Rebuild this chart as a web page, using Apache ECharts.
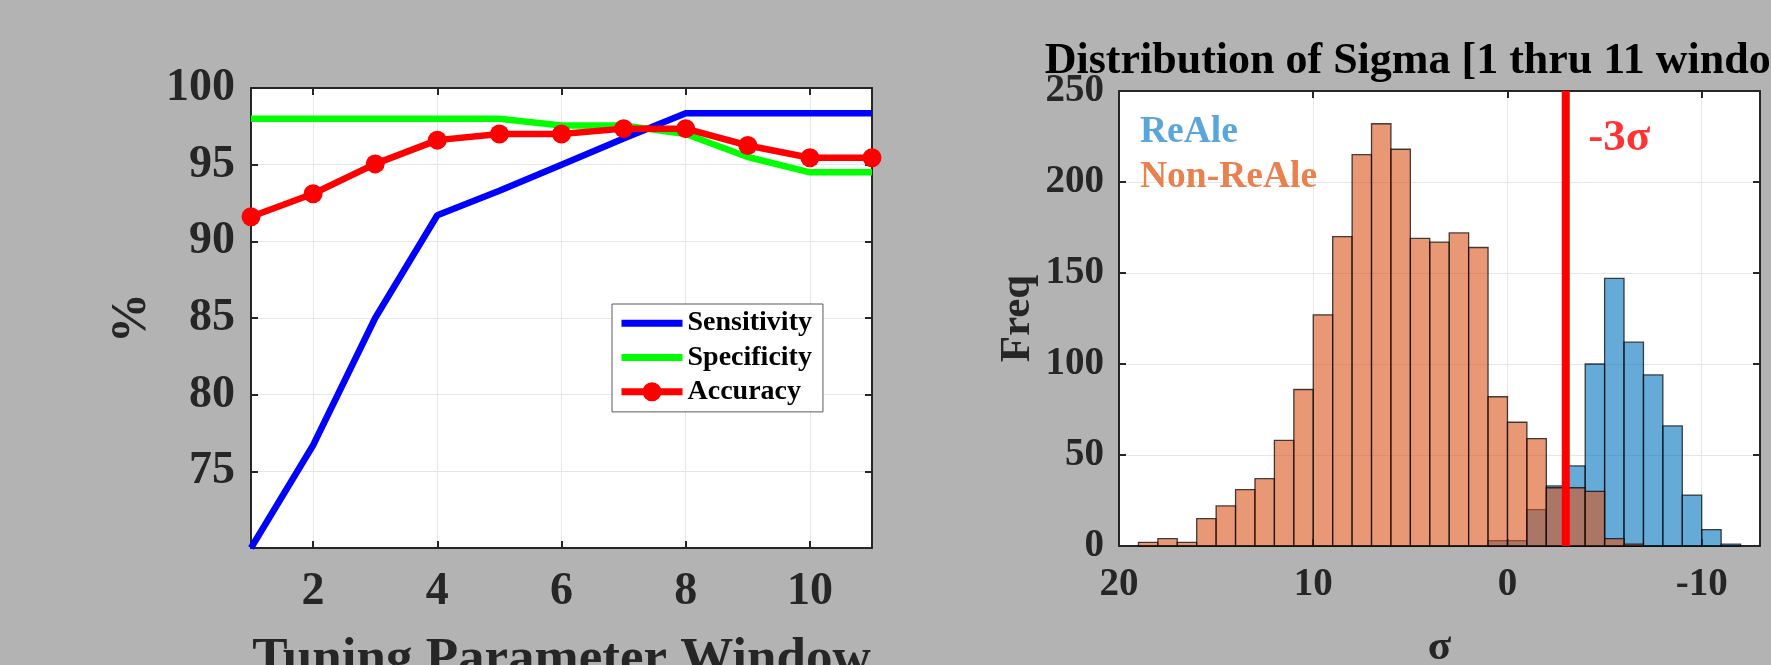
<!DOCTYPE html>
<html>
<head>
<meta charset="utf-8">
<script src="https://cdn.jsdelivr.net/npm/echarts@6/dist/echarts.min.js"></script>
<style>
html,body{margin:0;padding:0;background:#B3B3B3;}
#chart{width:1771px;height:665px;}
</style>
</head>
<body>
<div id="chart"></div>
<script>
// ---------- Left panel data ----------
const windows = [1, 2, 3, 4, 5, 6, 7, 8, 9, 10, 11];
const sensitivity = [70, 76.7, 85, 91.7, 93.3, 95, 96.7, 98.35, 98.35, 98.35, 98.35];
const specificity = [98, 98, 98, 98, 98, 97.55, 97.55, 97.0, 95.5, 94.5, 94.5];
const accuracy = [91.6, 93.1, 95.05, 96.6, 97.0, 97.0, 97.35, 97.35, 96.25, 95.45, 95.45];

// ---------- Right panel data (histogram, bin edges in sigma) ----------
const nonReAleEdges = [19, 18, 17, 16, 15, 14, 13, 12, 11, 10, 9, 8, 7, 6, 5, 4, 3, 2, 1, 0, -1, -2, -3, -4, -5, -6, -7];
const nonReAleCounts = [2, 4, 2, 15, 22, 31, 37, 58, 86, 127, 170, 215, 232, 218, 169, 167, 172, 164, 82, 68, 59, 32, 32, 30, 4, 1];
const reAleEdges = [1, 0, -1, -2, -3, -4, -5, -6, -7, -8, -9, -10, -11, -12];
const reAleCounts = [3, 3, 20, 33, 44, 100, 147, 112, 94, 66, 28, 9, 1];
const thresholdSigma = -3;

const titleText = 'Distribution of Sigma [1 thru 11 windows]';

function bins(edges, counts) {
  const out = [];
  for (let i = 0; i < counts.length; i++) out.push([edges[i + 1], edges[i], counts[i]]);
  return out;
}
function histRender(fill) {
  return function (params, api) {
    const a = api.coord([api.value(0), 0]);
    const b = api.coord([api.value(1), api.value(2)]);
    return {
      type: 'rect',
      shape: { x: Math.min(a[0], b[0]), y: b[1], width: Math.abs(b[0] - a[0]), height: a[1] - b[1] },
      style: { fill: fill, stroke: 'rgba(0,0,0,0.72)', lineWidth: 1.3 }
    };
  };
}

const FONT = "'Liberation Serif', 'Times New Roman', serif";
const AX = '#262626';
const GRIDC = '#E6E6E6';

function axisBase(extra) {
  return Object.assign({
    axisLine: { show: true, onZero: false, lineStyle: { color: AX, width: 2 } },
    axisTick: { show: true, inside: true, length: 7, lineStyle: { color: AX, width: 2 } },
    splitLine: { show: false },
    axisLabel: { show: false }
  }, extra);
}

const chart = echarts.init(document.getElementById('chart'), null, { renderer: 'canvas' });
const option = {
  backgroundColor: '#B3B3B3',
  animation: false,
  title: {
    text: titleText,
    left: 1439.5,
    top: 40,
    padding: 0,
    textAlign: 'center',
    textStyle: { fontFamily: FONT, fontWeight: 'bold', fontSize: 44, color: '#000' }
  },
  legend: [
    {
      data: [
        { name: 'Sensitivity', itemStyle: { opacity: 0 } },
        { name: 'Specificity', itemStyle: { opacity: 0 } },
        { name: 'Accuracy' }
      ],
      orient: 'vertical',
      left: 612,
      top: 304,
      itemWidth: 61,
      itemHeight: 24,
      itemGap: 0,
      padding: [2, 11, 3, 6],
      backgroundColor: '#fff',
      borderColor: '#5A5A5A',
      borderWidth: 1,
      borderRadius: 0,
      lineStyle: { width: 7 },
      textStyle: { fontFamily: FONT, fontWeight: 'bold', fontSize: 28, color: '#000', lineHeight: 34.3 }
    },
    {
      data: [
        { name: 'ReAle', textStyle: { color: '#5AA6DA' } },
        { name: 'Non-ReAle', textStyle: { color: '#E8814F' } }
      ],
      orient: 'vertical',
      left: 1135,
      top: 110,
      itemWidth: 0,
      itemHeight: 0,
      itemGap: 0,
      padding: 0,
      selectedMode: false,
      textStyle: { fontFamily: FONT, fontWeight: 'bold', fontSize: 37.5, lineHeight: 44.8 }
    }
  ],
  grid: [
    { left: 251, top: 88, width: 621, height: 460, outerBoundsMode: 'none', containLabel: false,
      show: true, backgroundColor: '#fff', borderWidth: 0 },
    { left: 1119, top: 91, width: 641, height: 455, outerBoundsMode: 'none', containLabel: false,
      show: true, backgroundColor: '#fff', borderWidth: 0 }
  ],
  xAxis: [
    axisBase({
      type: 'value', gridIndex: 0, position: 'bottom', min: 1, max: 11, splitNumber: 5,
      axisLabel: { show: true, showMinLabel: false, showMaxLabel: false, margin: 21,
        fontFamily: FONT, fontWeight: 'bold', fontSize: 46, color: AX },
      splitLine: { show: true, lineStyle: { color: GRIDC, width: 1 } },
      name: 'Tuning Parameter Window', nameLocation: 'middle', nameGap: 86,
      nameTextStyle: { fontFamily: FONT, fontWeight: 'bold', fontSize: 53, color: AX }
    }),
    axisBase({ type: 'value', gridIndex: 0, position: 'top', min: 1, max: 11, splitNumber: 5 }),
    axisBase({
      type: 'value', gridIndex: 1, position: 'bottom', min: -13, max: 20, splitNumber: 3, inverse: true,
      axisLabel: { show: true, showMinLabel: false, showMaxLabel: true, margin: 19,
        fontFamily: FONT, fontWeight: 'bold', fontSize: 39, color: AX },
      splitLine: { show: true, lineStyle: { color: GRIDC, width: 1 } },
      name: 'σ', nameLocation: 'middle', nameGap: 80,
      nameTextStyle: { fontFamily: FONT, fontWeight: 'bold', fontSize: 43, color: AX }
    }),
    axisBase({ type: 'value', gridIndex: 1, position: 'top', min: -13, max: 20, splitNumber: 3, inverse: true })
  ],
  yAxis: [
    axisBase({
      type: 'value', gridIndex: 0, position: 'left', min: 70, max: 100, interval: 5,
      axisLabel: { show: true, showMinLabel: false, margin: 16,
        fontFamily: FONT, fontWeight: 'bold', fontSize: 46, color: AX },
      splitLine: { show: true, lineStyle: { color: GRIDC, width: 1 } },
      name: '%', nameLocation: 'middle', nameRotate: 90, nameGap: 94,
      nameTextStyle: { fontFamily: FONT, fontWeight: 'bold', fontSize: 50, color: AX }
    }),
    axisBase({ type: 'value', gridIndex: 0, position: 'right', min: 70, max: 100, interval: 5 }),
    axisBase({
      type: 'value', gridIndex: 1, position: 'left', min: 0, max: 250, interval: 50,
      axisLabel: { show: true, margin: 15,
        fontFamily: FONT, fontWeight: 'bold', fontSize: 39, color: AX },
      splitLine: { show: true, lineStyle: { color: GRIDC, width: 1 } },
      name: 'Freq', nameLocation: 'middle', nameRotate: 90, nameGap: 80,
      nameTextStyle: { fontFamily: FONT, fontWeight: 'bold', fontSize: 43, color: AX }
    }),
    axisBase({ type: 'value', gridIndex: 1, position: 'right', min: 0, max: 250, interval: 50 })
  ],
  series: [
    {
      name: 'Sensitivity', type: 'line', xAxisIndex: 0, yAxisIndex: 0,
      data: windows.map((w, i) => [w, sensitivity[i]]),
      symbol: 'none', lineStyle: { color: '#0000FF', width: 6.5 }, itemStyle: { color: '#0000FF' }, z: 3
    },
    {
      name: 'Specificity', type: 'line', xAxisIndex: 0, yAxisIndex: 0,
      data: windows.map((w, i) => [w, specificity[i]]),
      symbol: 'none', lineStyle: { color: '#00FF00', width: 6.5 }, itemStyle: { color: '#00FF00' }, z: 3
    },
    {
      name: 'Accuracy', type: 'line', xAxisIndex: 0, yAxisIndex: 0,
      data: windows.map((w, i) => [w, accuracy[i]]),
      symbol: 'circle', symbolSize: 19, showSymbol: true,
      lineStyle: { color: '#FF0000', width: 6.5 }, itemStyle: { color: '#FF0000' }, z: 4
    },
    {
      name: 'ReAle', type: 'custom', xAxisIndex: 2, yAxisIndex: 2,
      renderItem: histRender('rgba(0,114,189,0.6)'),
      encode: { x: [0, 1], y: 2 },
      itemStyle: { color: 'rgba(0,114,189,0.6)' },
      data: bins(reAleEdges, reAleCounts), z: 2
    },
    {
      name: 'Non-ReAle', type: 'custom', xAxisIndex: 2, yAxisIndex: 2,
      renderItem: histRender('rgba(217,83,25,0.6)'),
      encode: { x: [0, 1], y: 2 },
      itemStyle: { color: 'rgba(217,83,25,0.6)' },
      data: bins(nonReAleEdges, nonReAleCounts), z: 3
    },
    {
      name: 'threshold', type: 'line', xAxisIndex: 2, yAxisIndex: 2,
      data: [[thresholdSigma, 0], [thresholdSigma, 250]],
      symbol: 'none', lineStyle: { color: '#FF0000', width: 8 }, z: 5, silent: true
    },
    {
      name: 'thresholdLabel', type: 'scatter', xAxisIndex: 2, yAxisIndex: 2,
      data: [[thresholdSigma, 224]],
      symbolSize: 1, itemStyle: { color: 'rgba(0,0,0,0)' }, silent: true, z: 6,
      label: {
        show: true, position: 'right', distance: 22,
        formatter: () => thresholdSigma + 'σ',
        fontFamily: FONT, fontWeight: 'bold', fontSize: 45, color: '#FF0000'
      }
    }
  ]
};
chart.setOption(option);
</script>
</body>
</html>
